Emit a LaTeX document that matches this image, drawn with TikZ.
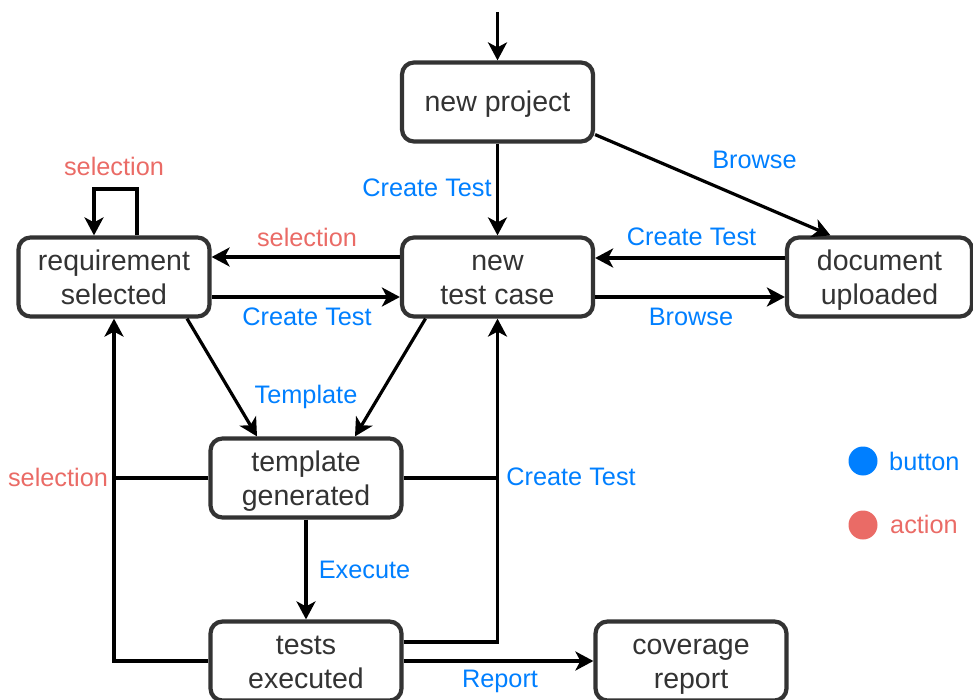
\documentclass[tikz,border=0pt]{standalone}
\usepackage{fontspec}
\setmainfont{Liberation Sans}
\usetikzlibrary{arrows.meta}

\definecolor{btnblue}{RGB}{0,127,255}
\definecolor{actred}{RGB}{234,107,102}
\definecolor{boxgray}{RGB}{51,51,51}

% line strut for the state texts: fixed height and depth per line
\newcommand\linestrut{\rule[-7pt]{0pt}{34pt}}

\tikzset{
  state/.style={draw=boxgray, line width=4.2pt, rounded corners=12pt, fill=white,
    minimum width=191pt, minimum height=79pt, inner sep=0pt, align=center,
    text=boxgray, font=\fontsize{28.5}{34}\selectfont},
  link/.style={line width=3.2pt, draw=black},
  flow/.style={link, -{Stealth[length=18pt,width=19pt,inset=5pt]}},
  btnlabel/.style={text=btnblue, inner sep=0pt, font=\fontsize{25.3}{30}\selectfont},
  actlabel/.style={text=actred, inner sep=0pt, font=\fontsize{25.3}{30}\selectfont},
  dot/.style={circle, inner sep=0pt, minimum size=29pt}
}

\begin{document}
\begin{tikzpicture}[x=1pt, y=-1pt]
\useasboundingbox (0,0) rectangle (973,700);

% states
\node[state] (np) at (497.5,102) {\linestrut new project};
\node[state] (rs) at (114,277) {\linestrut requirement\\\linestrut selected};
\node[state] (tc) at (497.5,277) {\linestrut new\\\linestrut test case};
\node[state, minimum width=185pt] (du) at (879.5,277) {\linestrut document\\\linestrut uploaded};
\node[state] (tg) at (306,478) {\linestrut template\\\linestrut generated};
\node[state] (te) at (306,661) {\linestrut tests\\\linestrut executed};
\node[state] (cr) at (691,661) {\linestrut coverage\\\linestrut report};

% entry arrow
\coordinate (start) at (497.5,12);
\draw[flow] (start) -- (np);

% from new project
\draw[flow] (np) -- (tc);
\draw[flow] ([yshift=9pt]np.south east) -- ([xshift=-49pt]du.north);

% requirement selected <-> new test case
\draw[flow] ([yshift=20pt]tc.west) -- ([yshift=20pt]rs.east);
\draw[flow] ([yshift=-20pt]rs.east) -- ([yshift=-20pt]tc.west);

% new test case <-> document uploaded
\draw[flow] ([yshift=19pt]du.west) -- ([yshift=19pt]tc.west -| tc.east);
\draw[flow] ([yshift=-20pt]tc.east) -- ([yshift=-20pt]du.west);

% self loop on requirement selected
\coordinate (loopR) at ([xshift=23pt]rs.north |- 0,189);
\coordinate (loopL) at ([xshift=-20pt]rs.north |- 0,189);
\draw[flow] ([xshift=23pt]rs.north) -- (loopR) -- (loopL) -- ([xshift=-20pt]rs.north);

% towards template generated
\draw[flow] ([xshift=73pt]rs.south) -- ([xshift=-49pt]tg.north);
\draw[flow] ([xshift=-72pt]tc.south) -- ([xshift=49pt]tg.north);

% template generated -> tests executed
\draw[flow] (tg) -- (te);

% back to requirement selected
\draw[flow] (te.west) -| (rs.south);
\draw[link] (tg.west) -- (tg.west -| rs.south);

% back to new test case
\draw[flow] ([yshift=19pt]te.east) -| (tc.south);
\draw[link] (tg.east) -- (tg.east -| tc.south);

% report
\draw[flow] (te.east) -- (te.east -| cr.west);

% labels
\node[actlabel] (l1) at (114,166) {selection};
\node[btnlabel] (l2) at (427,188) {Create Test};
\node[btnlabel] (l3) at (754.5,160) {Browse};
\node[actlabel] (l4) at (307,237) {selection};
\node[btnlabel] (l5) at (307,317) {Create Test};
\node[btnlabel] (l6) at (691.5,237) {Create Test};
\node[btnlabel] (l7) at (691,317) {Browse};
\node[btnlabel] (l8) at (306,397) {Template};
\node[actlabel] (l9) at (58,477) {selection};
\node[btnlabel] (l10) at (571,477) {Create Test};
\node[btnlabel] (l11) at (364.5,570) {Execute};
\node[btnlabel] (l12) at (500,681) {Report};

% legend
\node[dot, fill=btnblue] (kb) at (863,461) {};
\node[btnlabel, anchor=west] (kbt) at (889,461) {button};
\node[dot, fill=actred] (ka) at (863,525) {};
\node[actlabel, anchor=west] (kat) at (890,524) {action};
\end{tikzpicture}
\end{document}
